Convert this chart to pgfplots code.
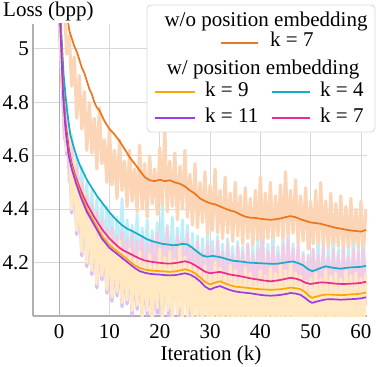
\documentclass[border=0pt]{standalone}
\usepackage{pgfplots}
\pgfplotsset{compat=1.18}
\usepackage{fontspec}
\setmainfont{Liberation Serif}
\definecolor{corange}{RGB}{235,118,28}
\definecolor{cyell}{RGB}{255,166,0}
\definecolor{ccyan}{RGB}{22,172,200}
\definecolor{cpurp}{RGB}{158,58,230}
\definecolor{cpink}{RGB}{236,44,140}
\definecolor{rpeach}{RGB}{252,213,182}
\definecolor{ryell}{RGB}{255,232,194}
\definecolor{rcyan}{RGB}{190,239,248}
\definecolor{rpink}{RGB}{246,202,228}
\definecolor{rpurp}{RGB}{218,192,246}
\definecolor{gridgray}{RGB}{216,216,216}
\definecolor{axisgray}{RGB}{176,176,176}
\begin{document}
\fontsize{21bp}{25bp}\selectfont
\begin{tikzpicture}
\begin{axis}[
  scale only axis, width=334bp, height=292bp,
  xmin=-5.2, xmax=61.2, ymin=4.0, ymax=5.093,
  axis x line*=bottom, axis y line*=left,
  axis line style={draw=axisgray, line width=1.2bp},
  xtick={0,10,20,30,40,50,60}, ytick={4.2,4.4,4.6,4.8,5},
  extra x ticks={0}, extra x tick labels={},
  extra x tick style={major grid style={draw=axisgray, line width=1.2bp}},
  grid=major, major grid style={draw=gridgray, line width=0.8bp},
  major tick length=0pt,
  /pgf/number format/assume math mode=true,
  tick label style={font=\fontsize{21bp}{25bp}\selectfont, inner sep=0pt},
  xticklabel style={yshift=-8bp},
  yticklabel style={xshift=-4bp},
  xlabel={Iteration (k)},
  xlabel style={at={(rel axis cs:0.5,0)}, anchor=base, yshift=-44bp, xshift=11bp, inner sep=0pt, font=\fontsize{21bp}{25bp}\selectfont},
  raw/.style={line width=3.2bp, line join=round},
  rawthin/.style={line width=2.8bp, line join=round},
  smooth line/.style={line width=1.7bp, line join=round},
]
% raw traces
\addplot[raw, rpeach] coordinates {(0,5.30)(0.5,5.12)(1,5.18)(1.5,4.98)(2,5.05)(2.5,4.86)(3,4.97)(3.5,4.74)(4,4.90)(4.5,4.70)(5,4.84)(5.5,4.62)(6,4.80)(6.5,4.61)(7,4.74)(7.5,4.55)(8,4.78)(8.5,4.57)(9,4.66)(9.5,4.50)(10,4.70)(10.5,4.49)(11,4.62)(11.5,4.44)(12,4.66)(12.5,4.47)(13,4.58)(13.5,4.41)(14,4.62)(14.5,4.43)(15,4.55)(15.5,4.39)(16,4.64)(16.5,4.40)(17,4.57)(17.5,4.37)(18,4.60)(18.5,4.42)(19,4.55)(19.5,4.38)(20,4.63)(20.5,4.40)(21,4.70)(21.5,4.39)(22,4.58)(22.5,4.41)(23,4.61)(23.5,4.36)(24,4.56)(24.5,4.40)(25,4.62)(25.5,4.37)(26,4.53)(26.5,4.34)(27,4.57)(27.5,4.33)(28,4.50)(28.5,4.35)(29,4.54)(29.5,4.30)(30,4.49)(30.5,4.32)(31,4.55)(31.5,4.31)(32,4.47)(32.5,4.29)(33,4.52)(33.5,4.31)(34,4.46)(34.5,4.28)(35,4.50)(35.5,4.30)(36,4.45)(36.5,4.27)(37,4.48)(37.5,4.29)(38,4.44)(38.5,4.26)(39,4.47)(39.5,4.28)(40,4.52)(40.5,4.27)(41,4.46)(41.5,4.29)(42,4.50)(42.5,4.26)(43,4.45)(43.5,4.30)(44,4.49)(44.5,4.28)(45,4.54)(45.5,4.29)(46,4.47)(46.5,4.31)(47,4.51)(47.5,4.27)(48,4.45)(48.5,4.28)(49,4.48)(49.5,4.25)(50,4.43)(50.5,4.27)(51,4.47)(51.5,4.24)(52,4.50)(52.5,4.26)(53,4.43)(53.5,4.25)(54,4.46)(54.5,4.23)(55,4.42)(55.5,4.26)(56,4.45)(56.5,4.24)(57,4.41)(57.5,4.25)(58,4.44)(58.5,4.23)(59,4.40)(59.5,4.25)(60,4.43)(60.5,4.24)(61,4.40)};
\addplot[rawthin, rcyan] coordinates {(0,5.2)(0.5,4.95)(1,4.72)(1.5,4.8)(2,4.55)(2.5,4.68)(3,4.48)(3.5,4.6)(4,4.42)(4.5,4.56)(5,4.38)(5.5,4.5)(6,4.34)(6.5,4.47)(7,4.3)(7.5,4.44)(8,4.28)(8.5,4.42)(9,4.26)(9.5,4.41)(10,4.24)(10.5,4.38)(11,4.22)(11.5,4.37)(12,4.21)(12.5,4.44)(13,4.2)(13.5,4.36)(14,4.19)(14.5,4.34)(15,4.2)(15.5,4.38)(16,4.18)(16.5,4.33)(17,4.19)(17.5,4.36)(18,4.18)(18.5,4.32)(19,4.17)(19.5,4.35)(20,4.18)(20.5,4.41)(21,4.17)(21.5,4.34)(22,4.18)(22.5,4.37)(23,4.16)(23.5,4.33)(24,4.18)(24.5,4.36)(25,4.17)(25.5,4.34)(26,4.15)(26.5,4.31)(27,4.14)(27.5,4.3)(28,4.13)(28.5,4.29)(29,4.12)(29.5,4.3)(30,4.13)(30.5,4.28)(31,4.12)(31.5,4.3)(32,4.13)(32.5,4.27)(33,4.11)(33.5,4.29)(34,4.12)(34.5,4.26)(35,4.11)(35.5,4.28)(36,4.12)(36.5,4.26)(37,4.1)(37.5,4.27)(38,4.11)(38.5,4.26)(39,4.1)(39.5,4.28)(40,4.11)(40.5,4.26)(41,4.1)(41.5,4.27)(42,4.12)(42.5,4.29)(43,4.11)(43.5,4.26)(44,4.12)(44.5,4.28)(45,4.11)(45.5,4.3)(46,4.12)(46.5,4.27)(47,4.11)(47.5,4.26)(48,4.1)(48.5,4.24)(49,4.09)(49.5,4.23)(50,4.08)(50.5,4.25)(51,4.1)(51.5,4.27)(52,4.09)(52.5,4.26)(53,4.1)(53.5,4.25)(54,4.09)(54.5,4.27)(55,4.1)(55.5,4.25)(56,4.09)(56.5,4.26)(57,4.1)(57.5,4.25)(58,4.09)(58.5,4.27)(59,4.1)(59.5,4.25)(60,4.09)(60.5,4.26)(61,4.12)};
\addplot[rawthin, rpink] coordinates {(0,5.15)(0.5,4.9)(1,4.66)(1.5,4.75)(2,4.5)(2.5,4.63)(3,4.42)(3.5,4.56)(4,4.36)(4.5,4.5)(5,4.31)(5.5,4.45)(6,4.28)(6.5,4.42)(7,4.24)(7.5,4.39)(8,4.22)(8.5,4.36)(9,4.19)(9.5,4.33)(10,4.17)(10.5,4.33)(11,4.15)(11.5,4.30)(12,4.14)(12.5,4.32)(13,4.12)(13.5,4.29)(14,4.13)(14.5,4.31)(15,4.11)(15.5,4.28)(16,4.10)(16.5,4.30)(17,4.11)(17.5,4.27)(18,4.09)(18.5,4.29)(19,4.10)(19.5,4.31)(20,4.08)(20.5,4.28)(21,4.10)(21.5,4.33)(22,4.09)(22.5,4.27)(23,4.08)(23.5,4.30)(24,4.10)(24.5,4.28)(25,4.09)(25.5,4.31)(26,4.07)(26.5,4.26)(27,4.06)(27.5,4.28)(28,4.05)(28.5,4.24)(29,4.06)(29.5,4.27)(30,4.04)(30.5,4.25)(31,4.06)(31.5,4.28)(32,4.05)(32.5,4.24)(33,4.04)(33.5,4.27)(34,4.05)(34.5,4.23)(35,4.03)(35.5,4.26)(36,4.05)(36.5,4.24)(37,4.04)(37.5,4.27)(38,4.03)(38.5,4.23)(39,4.05)(39.5,4.25)(40,4.03)(40.5,4.28)(41,4.04)(41.5,4.24)(42,4.03)(42.5,4.26)(43,4.05)(43.5,4.23)(44,4.04)(44.5,4.27)(45,4.05)(45.5,4.29)(46,4.04)(46.5,4.25)(47,4.03)(47.5,4.27)(48,4.04)(48.5,4.23)(49,4.02)(49.5,4.22)(50,4.01)(50.5,4.25)(51,4.03)(51.5,4.23)(52,4.02)(52.5,4.26)(53,4.03)(53.5,4.22)(54,4.02)(54.5,4.25)(55,4.03)(55.5,4.23)(56,4.02)(56.5,4.26)(57,4.03)(57.5,4.22)(58,4.02)(58.5,4.25)(59,4.03)(59.5,4.24)(60,4.02)(60.5,4.25)(61,4.04)};
\addplot[raw, rpurp] coordinates {(0,5.1)(0.5,4.9)(1,4.73)(1.5,4.605)(2,4.65)(2.5,4.385)(3,4.53)(3.5,4.305)(4,4.45)(4.5,4.225)(5,4.41)(5.5,4.185)(6,4.35)(6.5,4.155)(7,4.33)(7.5,4.105)(8,4.29)(8.5,4.135)(9,4.26)(9.5,4.085)(10,4.25)(10.5,4.055)(11,4.22)(11.5,4.075)(12,4.23)(12.5,4.035)(13,4.19)(13.5,4.045)(14,4.2)(14.5,4.005)(15,4.17)(15.5,4.025)(16,4.19)(16.5,3.99)(17,4.16)(17.5,4.005)(18,4.18)(18.5,3.97)(19,4.15)(19.5,4.01)(20,4.2)(20.5,3.98)(21,4.17)(22,3.95)(23,4.16)(24,3.95)(25,4.17)(26,3.94)(27,4.14)(28,3.93)(29,4.14)(30,3.92)(31,4.15)(32,3.93)(33,4.13)(34,3.92)(35,4.12)(36,3.91)(37,4.13)(38,3.92)(39,4.11)(40,3.91)(41,4.12)(42,3.92)(43,4.13)(44,3.91)(45,4.14)(46,3.92)(47,4.12)(48,3.91)(49,4.1)(50,3.9)(51,4.11)(52,3.91)(53,4.12)(54,3.9)(55,4.11)(56,3.91)(57,4.12)(58,3.9)(59,4.11)(60,3.91)(61,4.11)};
\addplot[raw, ryell] coordinates {(0,5.2)(0.5,4.92)(1,4.78)(1.5,4.62)(2,4.70)(2.5,4.40)(3,4.58)(3.5,4.32)(4,4.50)(4.5,4.24)(5,4.46)(5.5,4.20)(6,4.40)(6.5,4.17)(7,4.38)(7.5,4.12)(8,4.34)(8.5,4.15)(9,4.31)(9.5,4.10)(10,4.30)(10.5,4.07)(11,4.27)(11.5,4.09)(12,4.28)(12.5,4.05)(13,4.24)(13.5,4.06)(14,4.25)(14.5,4.02)(15,4.22)(15.5,4.04)(16,4.24)(16.5,4.00)(17,4.21)(17.5,4.02)(18,4.23)(18.5,3.98)(19,4.20)(19.5,4.03)(20,4.25)(20.5,3.99)(21,4.22)(21.5,4.02)(22,4.24)(22.5,3.98)(23,4.21)(23.5,4.01)(24,4.26)(24.5,3.97)(25,4.22)(25.5,4.00)(26,4.20)(26.5,3.96)(27,4.19)(27.5,3.98)(28,4.17)(28.5,3.94)(29,4.19)(29.5,3.97)(30,4.16)(30.5,3.93)(31,4.20)(31.5,3.96)(32,4.18)(32.5,3.94)(33,4.16)(33.5,3.97)(34,4.19)(34.5,3.93)(35,4.17)(35.5,3.95)(36,4.15)(36.5,3.92)(37,4.18)(37.5,3.96)(38,4.16)(38.5,3.93)(39,4.14)(39.5,3.95)(40,4.17)(40.5,3.92)(41,4.15)(41.5,3.96)(42,4.18)(42.5,3.93)(43,4.16)(43.5,3.95)(44,4.19)(44.5,3.93)(45,4.17)(45.5,3.96)(46,4.20)(46.5,3.94)(47,4.16)(47.5,3.92)(48,4.15)(48.5,3.95)(49,4.13)(49.5,3.91)(50,4.14)(50.5,3.94)(51,4.16)(51.5,3.92)(52,4.14)(52.5,3.95)(53,4.17)(53.5,3.93)(54,4.15)(54.5,3.92)(55,4.16)(55.5,3.94)(56,4.14)(56.5,3.92)(57,4.17)(57.5,3.95)(58,4.15)(58.5,3.93)(59,4.16)(59.5,3.92)(60,4.14)(60.5,3.95)(61,4.16)};
% smoothed curves
\addplot[smooth line, corange] coordinates {(0,5.45)(0.5,5.35)(1,5.25)(1.5,5.14)(2,5.07)(2.5,5.04)(3,5.01)(3.5,4.99)(4,4.96)(4.5,4.93)(5,4.91)(5.5,4.88)(6,4.85)(6.5,4.83)(7,4.80)(7.5,4.78)(8,4.77)(8.5,4.75)(9,4.73)(9.5,4.715)(10,4.70)(11,4.68)(12,4.655)(13,4.625)(14,4.595)(15,4.57)(16,4.545)(17,4.52)(18,4.508)(19,4.505)(20,4.51)(21,4.505)(22,4.508)(23,4.50)(24,4.495)(25,4.485)(26,4.47)(27,4.458)(28,4.44)(29,4.43)(30,4.422)(31,4.418)(32,4.41)(33,4.402)(34,4.395)(35,4.39)(36,4.38)(37,4.372)(38,4.368)(39,4.367)(40,4.364)(41,4.362)(42,4.36)(43,4.362)(44,4.365)(45,4.37)(46,4.374)(47,4.37)(48,4.362)(49,4.356)(50,4.35)(51,4.348)(52,4.345)(53,4.34)(54,4.335)(55,4.33)(56,4.327)(57,4.323)(58,4.32)(59,4.318)(60,4.316)(61,4.322)};
\addplot[smooth line, ccyan] coordinates {(0,5.3)(0.3,5.1)(0.9,4.90)(1.5,4.78)(2.2,4.68)(2.85,4.635)(3.5,4.595)(4.2,4.56)(5,4.53)(5.5,4.51)(6.5,4.48)(7.5,4.45)(8.5,4.425)(9.5,4.40)(10.5,4.377)(11.5,4.357)(12.5,4.34)(13.5,4.327)(14.5,4.318)(15.5,4.308)(16.5,4.298)(17.5,4.287)(18.5,4.28)(19.5,4.275)(20.5,4.27)(21.5,4.268)(22.5,4.265)(23.5,4.266)(24.5,4.27)(25.5,4.268)(26.5,4.255)(27.5,4.24)(28.5,4.226)(29.5,4.222)(30.5,4.225)(31.5,4.222)(32.5,4.218)(33.5,4.212)(34.5,4.207)(35.5,4.205)(36.5,4.203)(37.5,4.2)(38.5,4.199)(39.5,4.198)(40.5,4.197)(41.5,4.196)(42.5,4.195)(43.5,4.196)(44.5,4.199)(45.5,4.202)(46.5,4.204)(47.5,4.198)(48.5,4.19)(49.5,4.175)(50.3,4.168)(51,4.172)(52,4.18)(53,4.186)(54,4.182)(55,4.179)(56,4.177)(57,4.18)(58,4.182)(59,4.183)(60,4.184)(61,4.188)};
\addplot[smooth line, cpink] coordinates {(0,5.3)(0.2,5.15)(0.8,4.85)(1.3,4.72)(1.9,4.63)(2.5,4.57)(3.3,4.52)(4.3,4.47)(5.5,4.42)(7,4.37)(8.5,4.325)(10,4.29)(11,4.272)(12,4.255)(13,4.243)(14,4.234)(15,4.224)(16,4.215)(17,4.208)(18,4.204)(19,4.201)(20,4.199)(21,4.197)(22,4.196)(23,4.198)(24,4.201)(25,4.205)(26,4.2)(27,4.19)(28,4.178)(29,4.166)(30,4.16)(31,4.163)(32,4.165)(33,4.16)(34,4.155)(35,4.152)(36,4.149)(37,4.145)(38,4.141)(39,4.138)(40,4.135)(41,4.132)(42,4.13)(43,4.132)(44,4.135)(45,4.139)(46,4.143)(47,4.14)(48,4.134)(49,4.124)(50,4.12)(51,4.123)(52,4.126)(53,4.125)(54,4.123)(55,4.121)(56,4.12)(57,4.12)(58,4.121)(59,4.122)(60,4.124)(61,4.128)};
\addplot[smooth line, cyell] coordinates {(0,5.3)(0.2,5.12)(0.8,4.83)(1.3,4.70)(1.9,4.61)(2.5,4.56)(3.3,4.51)(4.3,4.455)(5.5,4.40)(7,4.35)(8.5,4.30)(10,4.265)(11,4.25)(12,4.235)(13,4.22)(14,4.205)(15,4.19)(16,4.18)(17,4.174)(18,4.171)(19,4.169)(20,4.168)(21,4.167)(22,4.165)(23,4.167)(24,4.17)(25,4.175)(26,4.17)(27,4.16)(28,4.145)(29,4.128)(30,4.118)(31,4.125)(32,4.13)(33,4.122)(34,4.115)(35,4.11)(36,4.108)(37,4.106)(38,4.104)(39,4.102)(40,4.1)(41,4.099)(42,4.098)(43,4.099)(44,4.1)(45,4.103)(46,4.106)(47,4.104)(48,4.1)(49,4.088)(49.7,4.075)(50.3,4.068)(51,4.072)(52,4.077)(53,4.08)(54,4.08)(55,4.079)(56,4.078)(57,4.079)(58,4.081)(59,4.082)(60,4.084)(61,4.088)};
\addplot[smooth line, cpurp] coordinates {(0,5.3)(0.2,5.1)(0.8,4.82)(1.3,4.69)(1.9,4.60)(2.5,4.55)(3.3,4.50)(4.3,4.445)(5.5,4.39)(7,4.34)(8.5,4.29)(10,4.255)(11,4.24)(12,4.225)(13,4.21)(14,4.195)(15,4.18)(16,4.168)(17,4.162)(18,4.158)(19,4.156)(20,4.155)(21,4.153)(22,4.152)(23,4.153)(24,4.156)(25,4.16)(26,4.155)(27,4.145)(28,4.13)(29,4.11)(30,4.099)(31,4.107)(32,4.112)(33,4.104)(34,4.097)(35,4.092)(36,4.089)(37,4.087)(38,4.085)(39,4.082)(40,4.079)(41,4.077)(42,4.076)(43,4.077)(44,4.079)(45,4.082)(46,4.086)(47,4.084)(48,4.079)(49,4.066)(49.7,4.055)(50.3,4.049)(51,4.053)(52,4.058)(53,4.062)(54,4.063)(55,4.062)(56,4.061)(57,4.062)(58,4.063)(59,4.064)(60,4.066)(61,4.07)};
\end{axis}
% y label
\node[anchor=base west, inner sep=0pt] at ([xshift=-30bp,yshift=7bp]current axis.north west) {Loss (bpp)};
% legend
\begin{scope}[shift={(current axis.north east)}]
\draw[draw=gridgray, fill=white, line width=0.8bp, rounded corners=4bp] (-220bp,19bp) rectangle (8bp,-108bp);
\node[anchor=base, inner sep=0pt] at (-101bp,-3bp) {w/o position embedding};
\draw[corange, line width=1.6bp] (-146bp,-19bp) -- (-109bp,-19bp);
\node[anchor=base west, inner sep=0pt] at (-97bp,-23bp) {k = 7};
\node[anchor=base, inner sep=0pt] at (-104bp,-51bp) {w/ position embedding};
\draw[cyell, line width=1.6bp] (-212bp,-68bp) -- (-172bp,-68bp);
\node[anchor=base west, inner sep=0pt] at (-162bp,-73bp) {k = 9};
\draw[ccyan, line width=1.6bp] (-95bp,-68bp) -- (-57bp,-68bp);
\node[anchor=base west, inner sep=0pt] at (-47bp,-73bp) {k = 4};
\draw[cpurp, line width=1.6bp] (-212bp,-94bp) -- (-172bp,-94bp);
\node[anchor=base west, inner sep=0pt] at (-162bp,-99bp) {k = 11};
\draw[cpink, line width=1.6bp] (-95bp,-94bp) -- (-57bp,-94bp);
\node[anchor=base west, inner sep=0pt] at (-47bp,-99bp) {k = 7};
\end{scope}
\pgfresetboundingbox
\path[use as bounding box] (current axis.south west) ++(-33bp,-51bp) rectangle ([xshift=12bp,yshift=24bp]current axis.north east);
\end{tikzpicture}
\end{document}
